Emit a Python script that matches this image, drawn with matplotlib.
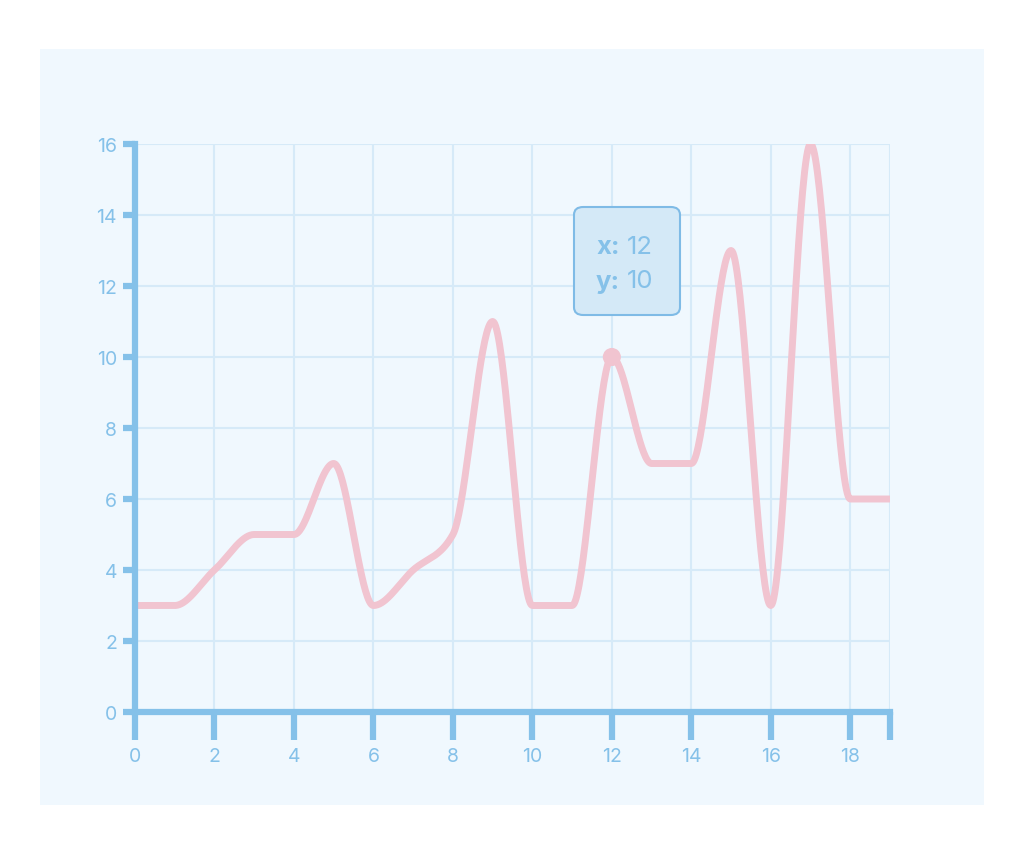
import matplotlib
matplotlib.use("Agg")
import matplotlib.pyplot as plt
from matplotlib.patches import Rectangle, FancyBboxPatch
import numpy as np

x_vals = [0, 1, 2, 3, 4, 5, 6, 7, 8, 9, 10, 11, 12, 13, 14, 15, 16, 17, 18, 19]
y_vals = [3, 3, 4, 5, 5, 7, 3, 4, 5, 11, 3, 3, 10, 7, 7, 13, 3, 16, 6, 6]
x_ticks = [0, 2, 4, 6, 8, 10, 12, 14, 16, 18]
y_ticks = [0, 2, 4, 6, 8, 10, 12, 14, 16]
hover_x = 12
hover_y = 10

AXIS = "#85c1e9"
GRID = "#d6eaf8"
BG = "#f0f8fe"
LINE = "#f1c4d0"

plt.rcParams["font.family"] = ["Inter", "DejaVu Sans"]


def monotone_x(xs, ys, n=40):
    # same idea as d3.curveMonotoneX
    xs = np.asarray(xs, float)
    ys = np.asarray(ys, float)
    h = np.diff(xs)
    s = np.diff(ys) / h
    t = np.zeros(len(xs))
    for i in range(1, len(xs) - 1):
        p = (s[i - 1] * h[i] + s[i] * h[i - 1]) / (h[i - 1] + h[i])
        t[i] = (np.sign(s[i - 1]) + np.sign(s[i])) * min(abs(s[i - 1]), abs(s[i]), 0.5 * abs(p))
    t[0] = (3 * s[0] - t[1]) / 2
    t[-1] = (3 * s[-1] - t[-2]) / 2
    px, py = [], []
    for i in range(len(xs) - 1):
        u = np.linspace(0, 1, n, endpoint=False)
        h00 = 2 * u**3 - 3 * u**2 + 1
        h10 = u**3 - 2 * u**2 + u
        h01 = -2 * u**3 + 3 * u**2
        h11 = u**3 - u**2
        px.extend(xs[i] + u * h[i])
        py.extend(h00 * ys[i] + h10 * h[i] * t[i] + h01 * ys[i + 1] + h11 * h[i] * t[i + 1])
    px.append(xs[-1])
    py.append(ys[-1])
    return np.array(px), np.array(py)


W, H = 1024, 862
fig = plt.figure(figsize=(W / 100, H / 100), dpi=100)
fig.patch.set_facecolor("white")
fig.patches.append(Rectangle((40 / W, 1 - 806 / H), 944 / W, 756 / H,
                             transform=fig.transFigure, facecolor=BG, edgecolor="none", zorder=-5))

ax = fig.add_axes([135 / W, 1 - 713 / H, 755 / W, 568 / H])
ax.set_facecolor("none")
ax.set_xlim(0, 19)
ax.set_ylim(0, 16)

for s in ["top", "right"]:
    ax.spines[s].set_visible(False)
for s in ["left", "bottom"]:
    ax.spines[s].set_color(AXIS)
    ax.spines[s].set_linewidth(4.5)
    ax.spines[s].set_zorder(4)

ax.set_xticks(x_ticks)
ax.set_xticks([19], minor=True)
ax.set_yticks(y_ticks)
ax.tick_params(axis="x", which="both", direction="out", length=20, width=4.5, color=AXIS,
               labelcolor=AXIS, labelsize=14, pad=5.5)
ax.tick_params(axis="y", direction="out", length=9, width=4.5, color=AXIS,
               labelcolor=AXIS, labelsize=14, pad=4)

for v in x_ticks[1:] + [19]:
    ax.axvline(v, color=GRID, lw=1.5, zorder=1)
for v in y_ticks[1:]:
    ax.axhline(v, color=GRID, lw=1.5, zorder=1)

cx, cy = monotone_x(x_vals, y_vals)
ax.plot(cx, cy, color=LINE, lw=5, solid_capstyle="butt", zorder=3)
ax.scatter([hover_x], [hover_y], s=170, color=LINE, zorder=5, edgecolors="none")

# tooltip box
bx0, by0, bx1, by1 = 574, 208, 680, 316
tip = FancyBboxPatch((bx0 / W, 1 - by1 / H), (bx1 - bx0) / W, (by1 - by0) / H,
                     boxstyle="round,pad=0,rounding_size=0.009",
                     transform=fig.transFigure, facecolor="#d4e9f7", edgecolor="#7fbbe6",
                     lw=1.5, zorder=6)
fig.patches.append(tip)
fig.text(596 / W, 1 - 248 / H, "x:", fontsize=18.5, fontweight="bold", color=AXIS,
         va="center", ha="left", zorder=7)
fig.text(627 / W, 1 - 248 / H, str(hover_x), fontsize=18.5, color=AXIS,
         va="center", ha="left", zorder=7)
fig.text(596 / W, 1 - 282 / H, "y:", fontsize=18.5, fontweight="bold", color=AXIS,
         va="center", ha="left", zorder=7)
fig.text(627 / W, 1 - 282 / H, str(hover_y), fontsize=18.5, color=AXIS,
         va="center", ha="left", zorder=7)

fig.savefig("out.png", dpi=100)
